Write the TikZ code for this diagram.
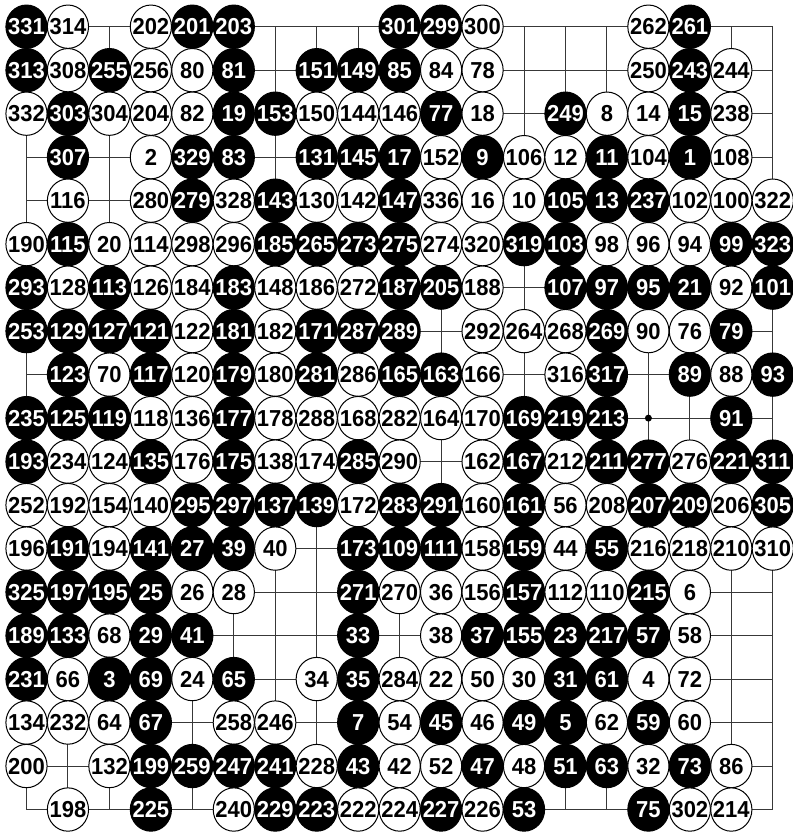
\documentclass[tikz,border=0pt]{standalone}
\usepackage{fontspec}
\setmainfont{Liberation Sans}
\usetikzlibrary{shapes.geometric}
\tikzset{
  gridline/.style={draw=black!78, line width=0.75pt},
  stonebase/.style={ellipse, inner sep=0pt, minimum width=30.9pt, minimum height=32.5pt,
    line width=0.75pt, text height=12.4pt, text depth=0pt,
    font=\fontsize{16.5}{16.5}\selectfont\bfseries},
  stoneb/.style={stonebase, fill=black, draw=black, text=white},
  stonew/.style={stonebase, fill=white, draw=black, text=black},
  hoshi/.style={circle, fill=black, inner sep=0pt, minimum size=5.25pt},
}
\newcommand{\gx}[1]{26.5+(#1-1)*41.46}
\newcommand{\gy}[1]{26.7+(#1-1)*43.49}
\begin{document}
\begin{tikzpicture}[x=0.75pt, y=-0.75pt]
\useasboundingbox (0,0) rectangle (792,834);
% board lines
\foreach \i in {1,...,19} {
  \draw[gridline] ({\gx{1}},{\gy{\i}}) -- ({\gx{19}},{\gy{\i}});
  \draw[gridline] ({\gx{\i}},{\gy{1}}) -- ({\gx{\i}},{\gy{19}});
}
% star points
\foreach \c in {4,10,16} {
  \foreach \r in {4,10,16} {
    \node[hoshi] (hoshi-\c-\r) at ({\gx{\c}},{\gy{\r}}) {};
  }
}
% stones
\foreach \c/\r/\n/\s in {
1/1/331/b, 2/1/314/w, 4/1/202/w, 5/1/201/b, 6/1/203/b, 10/1/301/b, 11/1/299/b, 12/1/300/w, 16/1/262/w, 17/1/261/b,
1/2/313/b, 2/2/308/w, 3/2/255/b, 4/2/256/w, 5/2/80/w, 6/2/81/b, 8/2/151/b, 9/2/149/b, 10/2/85/b, 11/2/84/w, 12/2/78/w, 16/2/250/w, 17/2/243/b, 18/2/244/w,
1/3/332/w, 2/3/303/b, 3/3/304/w, 4/3/204/w, 5/3/82/w, 6/3/19/b, 7/3/153/b, 8/3/150/w, 9/3/144/w, 10/3/146/w, 11/3/77/b, 12/3/18/w, 14/3/249/b, 15/3/8/w, 16/3/14/w, 17/3/15/b, 18/3/238/w,
2/4/307/b, 4/4/2/w, 5/4/329/b, 6/4/83/b, 8/4/131/b, 9/4/145/b, 10/4/17/b, 11/4/152/w, 12/4/9/b, 13/4/106/w, 14/4/12/w, 15/4/11/b, 16/4/104/w, 17/4/1/b, 18/4/108/w,
2/5/116/w, 4/5/280/w, 5/5/279/b, 6/5/328/w, 7/5/143/b, 8/5/130/w, 9/5/142/w, 10/5/147/b, 11/5/336/w, 12/5/16/w, 13/5/10/w, 14/5/105/b, 15/5/13/b, 16/5/237/b, 17/5/102/w, 18/5/100/w, 19/5/322/w,
1/6/190/w, 2/6/115/b, 3/6/20/w, 4/6/114/w, 5/6/298/w, 6/6/296/w, 7/6/185/b, 8/6/265/b, 9/6/273/b, 10/6/275/b, 11/6/274/w, 12/6/320/w, 13/6/319/b, 14/6/103/b, 15/6/98/w, 16/6/96/w, 17/6/94/w, 18/6/99/b, 19/6/323/b,
1/7/293/b, 2/7/128/w, 3/7/113/b, 4/7/126/w, 5/7/184/w, 6/7/183/b, 7/7/148/w, 8/7/186/w, 9/7/272/w, 10/7/187/b, 11/7/205/b, 12/7/188/w, 14/7/107/b, 15/7/97/b, 16/7/95/b, 17/7/21/b, 18/7/92/w, 19/7/101/b,
1/8/253/b, 2/8/129/b, 3/8/127/b, 4/8/121/b, 5/8/122/w, 6/8/181/b, 7/8/182/w, 8/8/171/b, 9/8/287/b, 10/8/289/b, 12/8/292/w, 13/8/264/w, 14/8/268/w, 15/8/269/b, 16/8/90/w, 17/8/76/w, 18/8/79/b,
2/9/123/b, 3/9/70/w, 4/9/117/b, 5/9/120/w, 6/9/179/b, 7/9/180/w, 8/9/281/b, 9/9/286/w, 10/9/165/b, 11/9/163/b, 12/9/166/w, 14/9/316/w, 15/9/317/b, 17/9/89/b, 18/9/88/w, 19/9/93/b,
1/10/235/b, 2/10/125/b, 3/10/119/b, 4/10/118/w, 5/10/136/w, 6/10/177/b, 7/10/178/w, 8/10/288/w, 9/10/168/w, 10/10/282/w, 11/10/164/w, 12/10/170/w, 13/10/169/b, 14/10/219/b, 15/10/213/b, 18/10/91/b,
1/11/193/b, 2/11/234/w, 3/11/124/w, 4/11/135/b, 5/11/176/w, 6/11/175/b, 7/11/138/w, 8/11/174/w, 9/11/285/b, 10/11/290/w, 12/11/162/w, 13/11/167/b, 14/11/212/w, 15/11/211/b, 16/11/277/b, 17/11/276/w, 18/11/221/b, 19/11/311/b,
1/12/252/w, 2/12/192/w, 3/12/154/w, 4/12/140/w, 5/12/295/b, 6/12/297/b, 7/12/137/b, 8/12/139/b, 9/12/172/w, 10/12/283/b, 11/12/291/b, 12/12/160/w, 13/12/161/b, 14/12/56/w, 15/12/208/w, 16/12/207/b, 17/12/209/b, 18/12/206/w, 19/12/305/b,
1/13/196/w, 2/13/191/b, 3/13/194/w, 4/13/141/b, 5/13/27/b, 6/13/39/b, 7/13/40/w, 9/13/173/b, 10/13/109/b, 11/13/111/b, 12/13/158/w, 13/13/159/b, 14/13/44/w, 15/13/55/b, 16/13/216/w, 17/13/218/w, 18/13/210/w, 19/13/310/w,
1/14/325/b, 2/14/197/b, 3/14/195/b, 4/14/25/b, 5/14/26/w, 6/14/28/w, 9/14/271/b, 10/14/270/w, 11/14/36/w, 12/14/156/w, 13/14/157/b, 14/14/112/w, 15/14/110/w, 16/14/215/b, 17/14/6/w,
1/15/189/b, 2/15/133/b, 3/15/68/w, 4/15/29/b, 5/15/41/b, 9/15/33/b, 11/15/38/w, 12/15/37/b, 13/15/155/b, 14/15/23/b, 15/15/217/b, 16/15/57/b, 17/15/58/w,
1/16/231/b, 2/16/66/w, 3/16/3/b, 4/16/69/b, 5/16/24/w, 6/16/65/b, 8/16/34/w, 9/16/35/b, 10/16/284/w, 11/16/22/w, 12/16/50/w, 13/16/30/w, 14/16/31/b, 15/16/61/b, 16/16/4/w, 17/16/72/w,
1/17/134/w, 2/17/232/w, 3/17/64/w, 4/17/67/b, 6/17/258/w, 7/17/246/w, 9/17/7/b, 10/17/54/w, 11/17/45/b, 12/17/46/w, 13/17/49/b, 14/17/5/b, 15/17/62/w, 16/17/59/b, 17/17/60/w,
1/18/200/w, 3/18/132/w, 4/18/199/b, 5/18/259/b, 6/18/247/b, 7/18/241/b, 8/18/228/w, 9/18/43/b, 10/18/42/w, 11/18/52/w, 12/18/47/b, 13/18/48/w, 14/18/51/b, 15/18/63/b, 16/18/32/w, 17/18/73/b, 18/18/86/w,
2/19/198/w, 4/19/225/b, 6/19/240/w, 7/19/229/b, 8/19/223/b, 9/19/222/w, 10/19/224/w, 11/19/227/b, 12/19/226/w, 13/19/53/b, 16/19/75/b, 17/19/302/w, 18/19/214/w} {
  \node[stone\s] (s\n) at ({\gx{\c}},{\gy{\r}}) {\makebox[0pt]{\scalebox{1}[1.05]{\n}}};
}
\end{tikzpicture}
\end{document}
